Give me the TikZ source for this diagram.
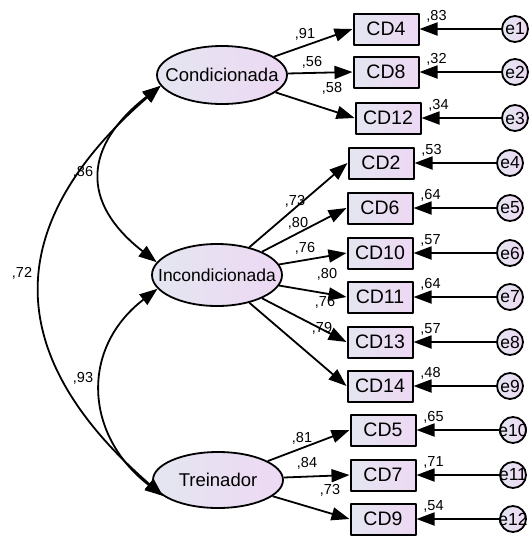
\documentclass[tikz,border=0pt]{standalone}
\usepackage{fontspec}
\setmainfont{Liberation Sans}
\usetikzlibrary{arrows.meta,shapes.geometric}
\definecolor{shadeL}{HTML}{E4E6F1}
\definecolor{shadeR}{HTML}{EDD8F3}
\begin{document}
\begin{tikzpicture}[x=1pt,y=-1pt, line join=round, >={Triangle[length=18pt,width=13pt]},
	lat/.style={ellipse, draw, line width=1.8pt, left color=shadeL, right color=shadeR, minimum width=130pt, minimum height=58pt, inner sep=0pt, font=\fontsize{18.5}{19}\selectfont},
	obs/.style={rectangle, draw, line width=2pt, left color=shadeL, right color=shadeR, minimum width=65pt, minimum height=31pt, inner sep=0pt, font=\fontsize{19.5}{20}\selectfont},
	err/.style={circle, draw, line width=1.8pt, left color=shadeL, right color=shadeR, minimum size=26pt, inner sep=0pt, font=\fontsize{17.5}{18}\selectfont},
	lbl/.style={inner sep=0pt, font=\fontsize{14.5}{15}\selectfont},
	arr/.style={->, line width=1.8pt}]
	\useasboundingbox (0,0) rectangle (531,536);
	% fatores
	\node[lat] (cond) at (222,75) {\makebox[0pt]{Condicionada}};
	\node[lat, minimum height=62pt, font=\fontsize{17.5}{18}\selectfont] (incond) at (217,275) {\makebox[0pt]{Incondicionada}};
	\node[lat, minimum height=56pt] (trein) at (218,480) {\makebox[0pt]{Treinador}};
	% itens
	\node[obs] (cd4) at (386,29) {CD4};
	\node[obs] (cd8) at (386,72) {CD8};
	\node[obs] (cd12) at (388,118) {CD12};
	\node[obs] (cd2) at (381,163) {CD2};
	\node[obs] (cd6) at (380,208) {CD6};
	\node[obs] (cd10) at (380,253) {CD10};
	\node[obs] (cd11) at (380,297) {CD11};
	\node[obs] (cd13) at (380,342) {CD13};
	\node[obs] (cd14) at (380,386) {CD14};
	\node[obs] (cd5) at (383,430) {CD5};
	\node[obs] (cd7) at (383,475) {CD7};
	\node[obs] (cd9) at (383,519) {CD9};
	% erros
	\node[err] (e1) at (515,29) {e1};
	\node[err] (e2) at (515,72) {e2};
	\node[err] (e3) at (515,118) {e3};
	\node[err] (e4) at (510,163) {e4};
	\node[err] (e5) at (510,208) {e5};
	\node[err] (e6) at (510,253) {e6};
	\node[err] (e7) at (510,297) {e7};
	\node[err] (e8) at (510,342) {e8};
	\node[err] (e9) at (510,386) {e9};
	\node[err] (e10) at (513,430) {\makebox[0pt]{e10}};
	\node[err] (e11) at (513,475) {\makebox[0pt]{e11}};
	\node[err] (e12) at (513,519) {\makebox[0pt]{e12}};
	% cargas
	\draw[arr] (cond) -- (cd4.west);
	\draw[arr] (cond) -- (cd8.west);
	\draw[arr] (cond) -- (cd12.west);
	\draw[arr] (incond) -- (cd2.west);
	\draw[arr] (incond) -- (cd6.west);
	\draw[arr] (incond) -- (cd10.west);
	\draw[arr] (incond) -- (cd11.west);
	\draw[arr] (incond) -- (cd13.west);
	\draw[arr] (incond) -- (cd14.west);
	\draw[arr] (trein) -- (cd5.west);
	\draw[arr] (trein) -- (cd7.west);
	\draw[arr] (trein) -- (cd9.west);
	\node[lbl] (l4) at (305,34) {,91};
	\node[lbl] (l8) at (312,62) {,56};
	\node[lbl] (l12) at (332,88) {,58};
	\node[lbl] (l2) at (295,201) {,73};
	\node[lbl] (l6) at (298,223) {,80};
	\node[lbl] (l10) at (305,248) {,76};
	\node[lbl] (l11) at (327,274) {,80};
	\node[lbl] (l13) at (325,302) {,76};
	\node[lbl] (l14) at (322,328) {,79};
	\node[lbl] (l5) at (302,438) {,81};
	\node[lbl] (l7) at (307,463) {,84};
	\node[lbl] (l9) at (330,490) {,73};
	% erros -> itens
	\draw[arr] (e1) -- (cd4);
	\draw[arr] (e2) -- (cd8);
	\draw[arr] (e3) -- (cd12);
	\draw[arr] (e4) -- (cd2);
	\draw[arr] (e5) -- (cd6);
	\draw[arr] (e6) -- (cd10);
	\draw[arr] (e7) -- (cd11);
	\draw[arr] (e8) -- (cd13);
	\draw[arr] (e9) -- (cd14);
	\draw[arr] (e10) -- (cd5);
	\draw[arr] (e11) -- (cd7);
	\draw[arr] (e12) -- (cd9);
	\node[lbl] (r4) at ([shift={(17,-13)}]cd4.east) {,83};
	\node[lbl] (r8) at ([shift={(17,-13)}]cd8.east) {,32};
	\node[lbl] (r12) at ([shift={(17,-13)}]cd12.east) {,34};
	\node[lbl] (r2) at ([shift={(17,-13)}]cd2.east) {,53};
	\node[lbl] (r6) at ([shift={(17,-13)}]cd6.east) {,64};
	\node[lbl] (r10) at ([shift={(17,-13)}]cd10.east) {,57};
	\node[lbl] (r11) at ([shift={(17,-13)}]cd11.east) {,64};
	\node[lbl] (r13) at ([shift={(17,-13)}]cd13.east) {,57};
	\node[lbl] (r14) at ([shift={(17,-13)}]cd14.east) {,48};
	\node[lbl] (r5) at ([shift={(17,-13)}]cd5.east) {,65};
	\node[lbl] (r7) at ([shift={(17,-13)}]cd7.east) {,71};
	\node[lbl] (r9) at ([shift={(17,-13)}]cd9.east) {,54};
	% correlacoes
	\draw[<->, line width=1.8pt] (cond.190) .. controls +(-77,60) and +(-77,-60) .. (incond.168);
	\draw[<->, line width=1.8pt] (incond.193) .. controls +(-78,60) and +(-78,-60) .. (trein.196);
	\draw[<->, line width=1.8pt] (cond.190) .. controls +(-161,140) and +(-161,-140) .. (trein.196);
	\node[lbl] (c1) at (83,172) {,86};
	\node[lbl] (c2) at (22,273) {,72};
	\node[lbl] (c3) at (83,378) {,93};
\end{tikzpicture}
\end{document}
